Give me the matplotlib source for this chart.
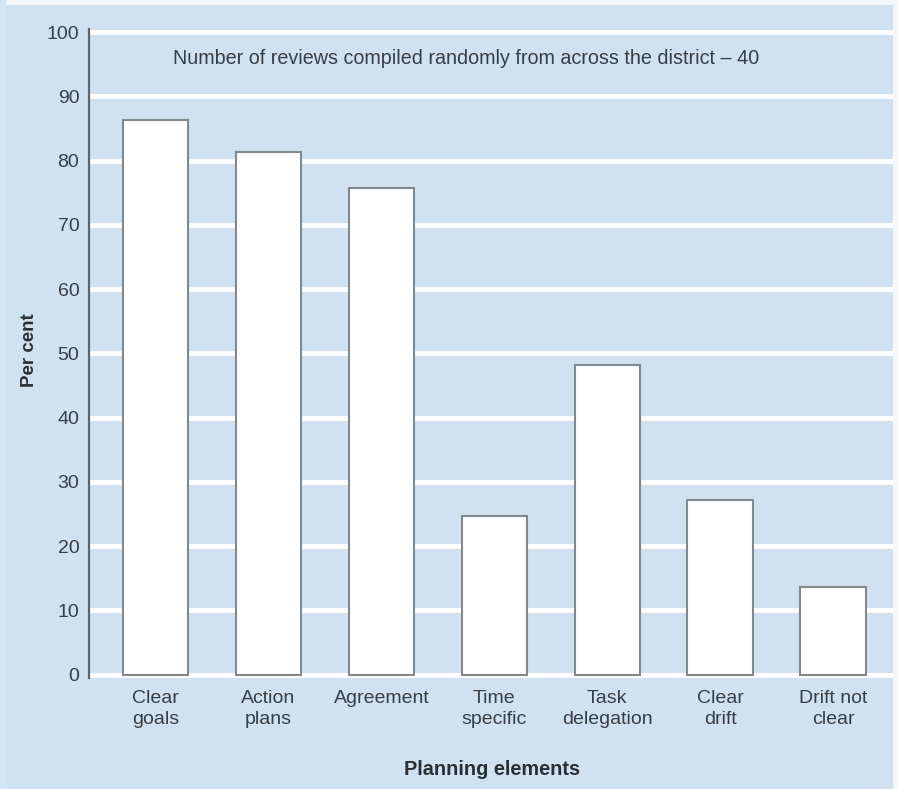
import matplotlib
matplotlib.use("Agg")
import matplotlib.pyplot as plt
from matplotlib.patches import Rectangle

categories = ["Clear\ngoals", "Action\nplans", "Agreement", "Time\nspecific",
              "Task\ndelegation", "Clear\ndrift", "Drift not\nclear"]
percent = [86.3, 81.4, 75.8, 24.7, 48.1, 27.2, 13.6]
yticks = [0, 10, 20, 30, 40, 50, 60, 70, 80, 90, 100]
note = "Number of reviews compiled randomly from across the district \u2013 40"

plt.rcParams["font.family"] = ["Liberation Sans", "DejaVu Sans"]

bg = "#d0e1f1"
text_col = "#383e45"
W, H = 898, 789

fig = plt.figure(figsize=(W / 100, H / 100), dpi=100, facecolor=bg)

# pale frame along the top, right and left edges of the page
fig.patches.append(Rectangle((0, 1 - 5 / H), 1, 5 / H, transform=fig.transFigure,
                             facecolor="#f3f7fb", edgecolor="none", zorder=0))
fig.patches.append(Rectangle((1 - 5 / W, 0), 5 / W, 1, transform=fig.transFigure,
                             facecolor="#f3f7fb", edgecolor="none", zorder=0))
fig.patches.append(Rectangle((0, 0), 6 / W, 1, transform=fig.transFigure,
                             facecolor="#d7e6f3", edgecolor="none", zorder=0))

ax = fig.add_axes([89 / W, 0.141, (893 - 89) / W, 0.8225], facecolor=bg)

x = list(range(len(categories)))
ax.bar(x, percent, width=0.58, color="white", edgecolor="#80898f",
       linewidth=1.5, zorder=3)

ax.set_xlim(-0.59, 6.53)
ax.set_ylim(-0.5, 100.5)
ax.set_yticks(yticks)
ax.set_yticklabels([str(t) for t in yticks], fontsize=14, color=text_col)
ax.set_xticks(x)
ax.set_xticklabels(categories, fontsize=14, color=text_col, linespacing=1.28)
ax.tick_params(axis="both", length=0)
ax.tick_params(axis="y", pad=7)
ax.tick_params(axis="x", pad=9)

ax.yaxis.grid(True, color="white", linewidth=3.5, zorder=0)
ax.set_axisbelow(True)
for side in ["top", "right", "bottom"]:
    ax.spines[side].set_visible(False)
ax.spines["left"].set_color("#5d6670")
ax.spines["left"].set_linewidth(1.6)

ax.set_ylabel("Per cent", fontsize=13.5, fontweight="bold", color="#2a2f35")
ax.yaxis.set_label_coords(-0.0634, 0.505)
ax.set_xlabel("Planning elements", fontsize=14.3, fontweight="bold",
              color="#2a2f35")
ax.xaxis.set_label_coords(0.501, -0.127)

ax.text(2.75, 95.9, note, ha="center", va="center", fontsize=14.2,
        color=text_col)

fig.savefig("out.png", dpi=100, facecolor=bg)
